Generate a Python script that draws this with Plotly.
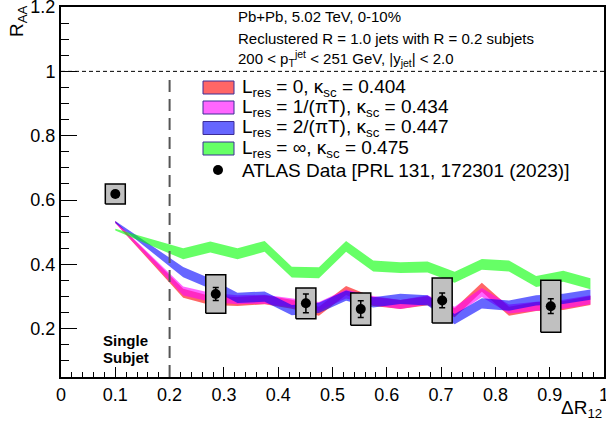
import plotly.graph_objects as go

# ---------------- data ----------------
dr_nodes = [0.1, 0.225, 0.275, 0.325, 0.375, 0.425, 0.475, 0.525, 0.575,
            0.625, 0.675, 0.725, 0.775, 0.825, 0.875, 0.925, 0.975]

raa_lres0 = [0.532, 0.310, 0.288, 0.285, 0.290, 0.276, 0.254, 0.319, 0.285,
             0.275, 0.287, 0.250, 0.329, 0.254, 0.269, 0.272, 0.288]
raa_lres1 = [0.532, 0.317, 0.298, 0.290, 0.292, 0.280, 0.269, 0.308, 0.288,
             0.275, 0.290, 0.254, 0.313, 0.261, 0.270, 0.276, 0.290]
raa_lres2 = [0.532, 0.376, 0.340, 0.296, 0.300, 0.258, 0.265, 0.303, 0.282,
             0.293, 0.288, 0.230, 0.279, 0.272, 0.288, 0.293, 0.306]
raa_lresinf = [0.508, 0.433, 0.454, 0.433, 0.456, 0.376, 0.374, 0.456, 0.395,
               0.390, 0.392, 0.360, 0.400, 0.395, 0.347, 0.363, 0.340]

hw_lres0 = [0.003, 0.014, 0.014, 0.014, 0.014, 0.014, 0.014, 0.014, 0.014,
            0.014, 0.014, 0.014, 0.014, 0.014, 0.014, 0.014, 0.014]
hw_lres1 = [0.003, 0.014, 0.014, 0.014, 0.014, 0.014, 0.014, 0.014, 0.014,
            0.014, 0.014, 0.014, 0.014, 0.014, 0.014, 0.014, 0.014]
hw_lres2 = [0.003, 0.016, 0.016, 0.016, 0.016, 0.016, 0.016, 0.016, 0.016,
            0.016, 0.016, 0.016, 0.016, 0.016, 0.016, 0.016, 0.016]
hw_lresinf = [0.003, 0.017, 0.017, 0.017, 0.017, 0.017, 0.017, 0.017, 0.017,
              0.017, 0.017, 0.017, 0.017, 0.017, 0.017, 0.017, 0.017]

atlas_dr = [0.1, 0.285, 0.451, 0.552, 0.702, 0.902]
atlas_raa = [0.619, 0.308, 0.279, 0.261, 0.288, 0.270]
atlas_stat = [0.010, 0.020, 0.029, 0.026, 0.023, 0.023]
atlas_sys = [0.031, 0.060, 0.048, 0.050, 0.070, 0.081]
sys_box_halfwidth = 0.0184

legend_labels = [
    "L<sub>res</sub> = 0, κ<sub>sc</sub> = 0.404",
    "L<sub>res</sub> = 1/(πT), κ<sub>sc</sub> = 0.434",
    "L<sub>res</sub> = 2/(πT), κ<sub>sc</sub> = 0.447",
    "L<sub>res</sub> = ∞, κ<sub>sc</sub> = 0.475",
]
data_label = "ATLAS Data [PRL 131, 172301 (2023)]"
header_lines = [
    "Pb+Pb, 5.02 TeV, 0-10%",
    "Reclustered R = 1.0 jets with R = 0.2 subjets",
    "200 < p<sub>T</sub><sup>jet</sup> < 251 GeV, |y<sub>jet</sub>| < 2.0",
]

# ---------------- styles ----------------
FONT = "Liberation Sans, Arial, sans-serif"
W, H = 606, 424
ML, MR, MT, MB = 61, 2, 7, 47
PW, PH = W - ML - MR, H - MT - MB

def px2paper(px, py):
    return (px - ML) / PW, (H - MB - py) / PH

band_styles = [
    ("rgba(255,0,0,0.6)", raa_lres0, hw_lres0),
    ("rgba(255,0,255,0.6)", raa_lres1, hw_lres1),
    ("rgba(0,0,255,0.6)", raa_lres2, hw_lres2),
    ("rgba(0,255,0,0.6)", raa_lresinf, hw_lresinf),
]

fig = go.Figure()

for color, vals, hw in band_styles:
    hi = [v + h for v, h in zip(vals, hw)]
    lo = [v - h for v, h in zip(vals, hw)]
    fig.add_trace(go.Scatter(
        x=dr_nodes + dr_nodes[::-1], y=hi + lo[::-1],
        fill="toself", fillcolor=color, line=dict(width=0),
        mode="lines", hoverinfo="skip", showlegend=False))

# systematic boxes
bx, by = [], []
for x, y, s in zip(atlas_dr, atlas_raa, atlas_sys):
    x0, x1 = x - sys_box_halfwidth, x + sys_box_halfwidth
    bx += [x0, x1, x1, x0, x0, None]
    by += [y - s, y - s, y + s, y + s, y - s, None]
fig.add_trace(go.Scatter(x=bx, y=by, fill="toself", fillcolor="#c0c0c0",
                         line=dict(color="black", width=1.5), mode="lines",
                         hoverinfo="skip", showlegend=False))

fig.add_trace(go.Scatter(
    x=atlas_dr, y=atlas_raa, mode="markers",
    marker=dict(color="black", size=10),
    error_y=dict(type="data", array=atlas_stat, color="black",
                 thickness=1.5, width=3),
    showlegend=False))

shapes = []
shapes.append(dict(type="line", xref="x", yref="y", x0=0, x1=1, y0=1, y1=1,
                   line=dict(color="black", width=1, dash="4px,3px")))
shapes.append(dict(type="line", xref="x", yref="y", x0=0.2, x1=0.2,
                   y0=0.05, y1=0.985,
                   line=dict(color="#555555", width=2, dash="12px,7px")))

annotations = []
legend_rows_py = [87.5, 107.5, 128, 148.5, 170]
swatch_fill = ["#ff6666", "#ff66ff", "#6666ff", "#66ff66"]
for i, lab in enumerate(legend_labels):
    py = legend_rows_py[i]
    x0, y0 = px2paper(203, py + 6.5)
    x1, y1 = px2paper(234, py - 6.5)
    shapes.append(dict(type="rect", xref="paper", yref="paper",
                       x0=x0, x1=x1, y0=y0, y1=y1,
                       fillcolor=swatch_fill[i],
                       line=dict(color="#3c2c96", width=1)))
    tx, ty = px2paper(240, py)
    annotations.append(dict(xref="paper", yref="paper", x=tx, y=ty,
                            text=lab, showarrow=False, xanchor="left",
                            yanchor="middle",
                            font=dict(family=FONT, size=19, color="black")))
cx, cy = px2paper(218, legend_rows_py[4])
shapes.append(dict(type="circle", xref="paper", yref="paper",
                   xsizemode="pixel", ysizemode="pixel", xanchor=cx, yanchor=cy,
                   x0=-5, x1=5, y0=-5, y1=5, fillcolor="black",
                   line=dict(color="black", width=0)))
tx, ty = px2paper(240, legend_rows_py[4])
annotations.append(dict(xref="paper", yref="paper", x=tx, y=ty,
                        text=data_label, showarrow=False, xanchor="left",
                        yanchor="middle",
                        font=dict(family=FONT, size=19, color="black")))

for line, py in zip(header_lines, [17, 38, 58]):
    tx, ty = px2paper(236, py)
    annotations.append(dict(xref="paper", yref="paper", x=tx, y=ty, text=line,
                            showarrow=False, xanchor="left", yanchor="middle",
                            font=dict(family=FONT, size=15, color="black")))

for line, py in zip(["<b>Single</b>", "<b>Subjet</b>"], [340, 357]):
    tx, ty = px2paper(125.5, py)
    annotations.append(dict(xref="paper", yref="paper", x=tx, y=ty, text=line,
                            showarrow=False, xanchor="center", yanchor="middle",
                            font=dict(family=FONT, size=15, color="black")))

tx, ty = px2paper(604, 409)
annotations.append(dict(xref="paper", yref="paper", x=tx, y=ty,
                        text="ΔR<sub>12</sub>", showarrow=False,
                        xanchor="right", yanchor="middle",
                        font=dict(family=FONT, size=19, color="black")))
tx, ty = px2paper(18, 3)
annotations.append(dict(xref="paper", yref="paper", x=tx, y=ty,
                        text="R<sub>AA</sub>", showarrow=False, textangle=-90,
                        xanchor="center", yanchor="top",
                        font=dict(family=FONT, size=19, color="black")))

fig.update_layout(
    width=W, height=H, margin=dict(l=ML, r=MR, t=MT, b=MB, autoexpand=False),
    paper_bgcolor="white", plot_bgcolor="white",
    shapes=shapes, annotations=annotations, showlegend=False,
    font=dict(family=FONT, size=18, color="black"),
)
fig.update_xaxes(range=[0, 1], tick0=0, dtick=0.1, ticks="inside", ticklen=10,
                 tickwidth=1, tickcolor="black", showgrid=False, zeroline=False,
                 showline=True, linecolor="black", linewidth=2, mirror=True,
                 automargin=False, ticklabeloverflow="allow",
                 minor=dict(dtick=0.02, ticks="inside", ticklen=5,
                            tickcolor="black", showgrid=False),
                 tickfont=dict(family=FONT, size=18, color="black"))
fig.update_yaxes(range=[0.05, 1.2001], tick0=0, dtick=0.2, ticks="inside",
                 ticklen=16, tickwidth=1, tickcolor="black", showgrid=False,
                 zeroline=False, showline=True, linecolor="black", linewidth=2,
                 mirror=True, automargin=False, ticklabeloverflow="allow",
                 minor=dict(dtick=0.05, tick0=0, ticks="inside", ticklen=8,
                            tickcolor="black", showgrid=False),
                 tickfont=dict(family=FONT, size=18, color="black"))

fig.write_html("out.html",
               config={"displayModeBar": False, "staticPlot": True},
               post_script="document.body.style.margin='0';"
                           "document.body.style.padding='0';"
                           "document.body.style.overflow='hidden';")
